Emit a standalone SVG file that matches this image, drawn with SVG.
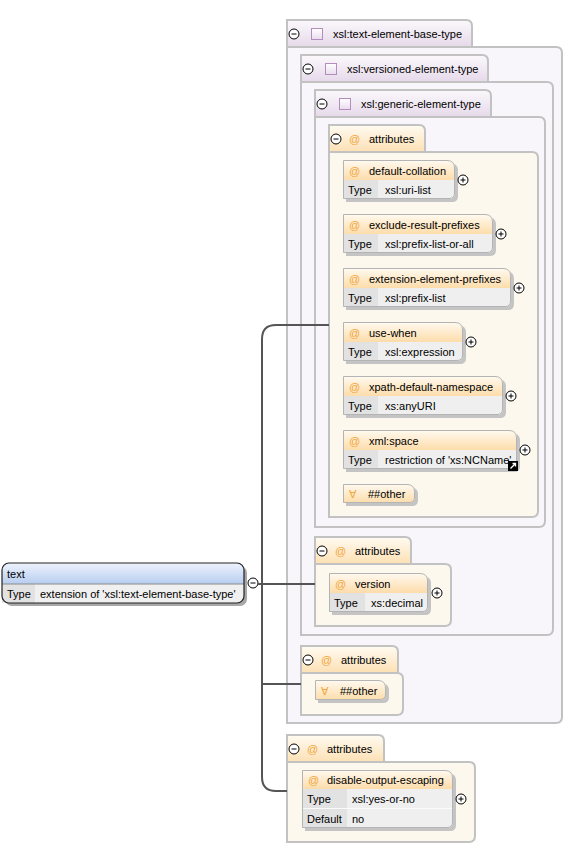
<svg xmlns="http://www.w3.org/2000/svg" width="569" height="844" viewBox="0 0 569 844">
<defs>
<linearGradient id="gTab" x1="0" y1="0" x2="0" y2="1"><stop offset="0" stop-color="#fbf9fc"/><stop offset="1" stop-color="#e6d9ea"/></linearGradient>
<linearGradient id="gAtab" x1="0" y1="0" x2="0" y2="1"><stop offset="0" stop-color="#fffbf2"/><stop offset="1" stop-color="#fde0b4"/></linearGradient>
<linearGradient id="gHead" x1="0" y1="0" x2="0" y2="1"><stop offset="0" stop-color="#fffaf1"/><stop offset="1" stop-color="#fddcaa"/></linearGradient>
<linearGradient id="gBlue" x1="0" y1="0" x2="0" y2="1"><stop offset="0" stop-color="#eef3fc"/><stop offset="1" stop-color="#b7cdf0"/></linearGradient>
<linearGradient id="gSq" x1="0" y1="0" x2="0" y2="1"><stop offset="0" stop-color="#ffffff"/><stop offset="1" stop-color="#eadcee"/></linearGradient>
<g id="minus"><circle r="5" fill="#fff" stroke="#000" stroke-width="1"/><path d="M-2.5 0 H2.5" stroke="#000" stroke-width="1"/></g>
<g id="plus"><circle r="5" fill="#fff" stroke="#000" stroke-width="1"/><path d="M-2.5 0 H2.5 M0 -2.5 V2.5" stroke="#000" stroke-width="1"/></g>
</defs>
<style>
text{font-family:"Liberation Sans",Arial,sans-serif;font-size:11px;fill:#000}
.cbody{fill:#f8f6fa;stroke:#c2c2c2;stroke-width:2}
.ctab{fill:url(#gTab);stroke:#c2c2c2;stroke-width:2}
.abody{fill:#fdf8ee;stroke:#c2c2c2;stroke-width:2}
.atab{fill:url(#gAtab);stroke:#c2c2c2;stroke-width:2}
.sq{fill:url(#gSq);stroke:#b58dbd;stroke-width:1}
.hd{fill:url(#gHead)}
.row{fill:#efefef}
.tc{fill:#e2e2e2}
.out{fill:none;stroke:#b4b4b4;stroke-width:1}
.sh{fill:#c4c4c4}
.sep{stroke:#fafafa;stroke-width:1}
.at{fill:#f2a53a}
.conn{fill:none;stroke:#555;stroke-width:2}
</style>

<g id="text-node">
<rect x="5" y="566" width="242" height="40" rx="7" fill="#a8a8a8"/>
<path d="M2 584 V570 Q2 563 9 563 H237 Q244 563 244 570 V584 Z" fill="url(#gBlue)"/>
<path d="M2 584 H244 V596 Q244 603 237 603 H9 Q2 603 2 596 Z" fill="#f0f0f0"/>
<rect x="2" y="584" width="33" height="19" fill="#e2e2e2"/>
<path d="M2 584 H244" stroke="#8a8a8a" stroke-width="1"/>
<rect x="2" y="563" width="242" height="40" rx="7" fill="none" stroke="#222" stroke-width="1.2"/>
<text x="7" y="578">text</text>
<text x="7" y="598">Type</text>
<text x="40" y="598">extension of 'xsl:text-element-base-type'</text>
<use href="#minus" x="253" y="583"/>
</g>

<g id="text-element-base-type">
<path class="cbody" d="M287 47 H556 Q562 47 562 53 V717 Q562 723 556 723 H287 Z"/>
<path class="ctab" d="M287 47 V20 H466 Q472 20 472 26 V47 Z"/>
<use href="#minus" x="294" y="34"/>
<rect class="sq" x="311.5" y="28.5" width="11" height="11"/>
<text x="333" y="38">xsl:text-element-base-type</text>
</g>

<g id="versioned-element-type">
<path class="cbody" d="M301 82 H547 Q553 82 553 88 V629 Q553 635 547 635 H301 Z"/>
<path class="ctab" d="M301 82 V55 H482 Q488 55 488 61 V82 Z"/>
<use href="#minus" x="308" y="69"/>
<rect class="sq" x="325.5" y="63.5" width="11" height="11"/>
<text x="347" y="73">xsl:versioned-element-type</text>
</g>

<g id="generic-element-type">
<path class="cbody" d="M315 117 H539 Q545 117 545 123 V521 Q545 527 539 527 H315 Z"/>
<path class="ctab" d="M315 117 V90 H485 Q491 90 491 96 V117 Z"/>
<use href="#minus" x="322" y="104"/>
<rect class="sq" x="339.5" y="98.5" width="11" height="11"/>
<text x="361" y="108">xsl:generic-element-type</text>
</g>

<g id="attributes-generic">
<path class="abody" d="M329 152 H532 Q538 152 538 158 V511 Q538 517 532 517 H329 Z"/>
<path class="atab" d="M329 152 V125 H419 Q425 125 425 131 V152 Z"/>
<use href="#minus" x="336" y="139"/>
<text class="at" x="349" y="143">@</text>
<text x="369" y="143">attributes</text>
</g>

<g id="attr-default-collation">
<path class="sh" transform="translate(3,3)" d="M343 160 H447 Q455 160 455 168 V193 Q455 199 449 199 H343 Z"/>
<path class="hd" d="M343 160 H447 Q455 160 455 168 V180 H343 Z"/>
<path class="row" d="M343 180 H455 V193 Q455 199 449 199 H343 Z"/>
<rect class="tc" x="343" y="180" width="35" height="19"/>
<path class="out" d="M343.5 160.5 H447 Q454.5 160.5 454.5 168 V193 Q454.5 198.5 449 198.5 H343.5 Z"/>
<text class="at" x="349" y="175">@</text><text x="369" y="175">default-collation</text>
<text x="348" y="194">Type</text><text x="385" y="194">xsl:uri-list</text>
<use href="#plus" x="463" y="180"/>
</g>

<g id="attr-exclude-result-prefixes">
<path class="sh" transform="translate(3,3)" d="M343 214 H485 Q493 214 493 222 V247 Q493 253 487 253 H343 Z"/>
<path class="hd" d="M343 214 H485 Q493 214 493 222 V234 H343 Z"/>
<path class="row" d="M343 234 H493 V247 Q493 253 487 253 H343 Z"/>
<rect class="tc" x="343" y="234" width="35" height="19"/>
<path class="out" d="M343.5 214.5 H485 Q492.5 214.5 492.5 222 V247 Q492.5 252.5 487 252.5 H343.5 Z"/>
<text class="at" x="349" y="229">@</text><text x="369" y="229">exclude-result-prefixes</text>
<text x="348" y="248">Type</text><text x="385" y="248">xsl:prefix-list-or-all</text>
<use href="#plus" x="501" y="234"/>
</g>

<g id="attr-extension-element-prefixes">
<path class="sh" transform="translate(3,3)" d="M343 268 H503 Q511 268 511 276 V301 Q511 307 505 307 H343 Z"/>
<path class="hd" d="M343 268 H503 Q511 268 511 276 V288 H343 Z"/>
<path class="row" d="M343 288 H511 V301 Q511 307 505 307 H343 Z"/>
<rect class="tc" x="343" y="288" width="35" height="19"/>
<path class="out" d="M343.5 268.5 H503 Q510.5 268.5 510.5 276 V301 Q510.5 306.5 505 306.5 H343.5 Z"/>
<text class="at" x="349" y="283">@</text><text x="369" y="283">extension-element-prefixes</text>
<text x="348" y="302">Type</text><text x="385" y="302">xsl:prefix-list</text>
<use href="#plus" x="519" y="288"/>
</g>

<g id="attr-use-when">
<path class="sh" transform="translate(3,3)" d="M343 322 H455 Q463 322 463 330 V355 Q463 361 457 361 H343 Z"/>
<path class="hd" d="M343 322 H455 Q463 322 463 330 V342 H343 Z"/>
<path class="row" d="M343 342 H463 V355 Q463 361 457 361 H343 Z"/>
<rect class="tc" x="343" y="342" width="35" height="19"/>
<path class="out" d="M343.5 322.5 H455 Q462.5 322.5 462.5 330 V355 Q462.5 360.5 457 360.5 H343.5 Z"/>
<text class="at" x="349" y="337">@</text><text x="369" y="337">use-when</text>
<text x="348" y="356">Type</text><text x="385" y="356">xsl:expression</text>
<use href="#plus" x="471" y="342"/>
</g>

<g id="attr-xpath-default-namespace">
<path class="sh" transform="translate(3,3)" d="M343 376 H495 Q503 376 503 384 V409 Q503 415 497 415 H343 Z"/>
<path class="hd" d="M343 376 H495 Q503 376 503 384 V396 H343 Z"/>
<path class="row" d="M343 396 H503 V409 Q503 415 497 415 H343 Z"/>
<rect class="tc" x="343" y="396" width="35" height="19"/>
<path class="out" d="M343.5 376.5 H495 Q502.5 376.5 502.5 384 V409 Q502.5 414.5 497 414.5 H343.5 Z"/>
<text class="at" x="349" y="391">@</text><text x="369" y="391">xpath-default-namespace</text>
<text x="348" y="410">Type</text><text x="385" y="410">xs:anyURI</text>
<use href="#plus" x="511" y="396"/>
</g>

<g id="attr-xml-space">
<path class="sh" transform="translate(3,3)" d="M343 430 H509 Q517 430 517 438 V463 Q517 469 511 469 H343 Z"/>
<path class="hd" d="M343 430 H509 Q517 430 517 438 V450 H343 Z"/>
<path class="row" d="M343 450 H517 V463 Q517 469 511 469 H343 Z"/>
<rect class="tc" x="343" y="450" width="35" height="19"/>
<path class="out" d="M343.5 430.5 H509 Q516.5 430.5 516.5 438 V463 Q516.5 468.5 511 468.5 H343.5 Z"/>
<text class="at" x="349" y="445">@</text><text x="369" y="445">xml:space</text>
<text x="348" y="464">Type</text><text x="385" y="464">restriction of 'xs:NCName'</text>
<use href="#plus" x="525" y="450"/>
<rect x="508" y="461" width="10" height="10" fill="#000"/>
<path d="M510.5 468.5 L515.5 463.5 M512.5 463.5 H515.5 V466.5" stroke="#fff" stroke-width="1.3" fill="none"/>
</g>

<g id="any-other-generic">
<path class="sh" transform="translate(3,3)" d="M343 484 H407 Q415 484 415 492 V497 Q415 503 409 503 H343 Z"/>
<path class="hd" d="M343 484 H407 Q415 484 415 492 V497 Q415 503 409 503 H343 Z"/>
<path class="out" d="M343.5 484.5 H407 Q414.5 484.5 414.5 492 V497 Q414.5 502.5 409 502.5 H343.5 Z"/>
<text class="at" x="349" y="498">∀</text><text x="368" y="498">##other</text>
</g>

<g id="attributes-version">
<path class="abody" d="M315 564 H445 Q451 564 451 570 V620 Q451 626 445 626 H315 Z"/>
<path class="atab" d="M315 564 V537 H405 Q411 537 411 543 V564 Z"/>
<use href="#minus" x="322" y="551"/>
<text class="at" x="335" y="555">@</text>
<text x="355" y="555">attributes</text>
</g>

<g id="attr-version">
<path class="sh" transform="translate(3,3)" d="M329 573 H420 Q428 573 428 581 V606 Q428 612 422 612 H329 Z"/>
<path class="hd" d="M329 573 H420 Q428 573 428 581 V593 H329 Z"/>
<path class="row" d="M329 593 H428 V606 Q428 612 422 612 H329 Z"/>
<rect class="tc" x="329" y="593" width="36" height="19"/>
<path class="out" d="M329.5 573.5 H420 Q427.5 573.5 427.5 581 V606 Q427.5 611.5 422 611.5 H329.5 Z"/>
<text class="at" x="335" y="588">@</text><text x="355" y="588">version</text>
<text x="334" y="607">Type</text><text x="371" y="607">xs:decimal</text>
<use href="#plus" x="437" y="593"/>
</g>

<g id="attributes-outer">
<path class="abody" d="M301 673 H397 Q403 673 403 679 V709 Q403 715 397 715 H301 Z"/>
<path class="atab" d="M301 673 V646 H392 Q398 646 398 652 V673 Z"/>
<use href="#minus" x="308" y="660"/>
<text class="at" x="321" y="664">@</text>
<text x="341" y="664">attributes</text>
</g>

<g id="any-other-outer">
<path class="sh" transform="translate(3,3)" d="M315 680 H378 Q386 680 386 688 V694 Q386 700 380 700 H315 Z"/>
<path class="hd" d="M315 680 H378 Q386 680 386 688 V694 Q386 700 380 700 H315 Z"/>
<path class="out" d="M315.5 680.5 H378 Q385.5 680.5 385.5 688 V694 Q385.5 699.5 380 699.5 H315.5 Z"/>
<text class="at" x="321" y="695">∀</text><text x="340" y="695">##other</text>
</g>

<g id="attributes-text">
<path class="abody" d="M287 762 H469 Q475 762 475 768 V836 Q475 842 469 842 H287 Z"/>
<path class="atab" d="M287 762 V735 H378 Q384 735 384 741 V762 Z"/>
<use href="#minus" x="294" y="749"/>
<text class="at" x="307" y="753">@</text>
<text x="327" y="753">attributes</text>
</g>

<g id="attr-disable-output-escaping">
<path class="sh" transform="translate(3,3)" d="M302 770 H445 Q453 770 453 778 V822 Q453 828 447 828 H302 Z"/>
<path class="hd" d="M302 770 H445 Q453 770 453 778 V789 H302 Z"/>
<path class="row" d="M302 789 H453 V822 Q453 828 447 828 H302 Z"/>
<rect class="tc" x="302" y="789" width="45" height="39"/>
<path class="sep" d="M302 808.5 H453"/>
<path class="out" d="M302.5 770.5 H445 Q452.5 770.5 452.5 778 V822 Q452.5 827.5 447 827.5 H302.5 Z"/>
<text class="at" x="308" y="784">@</text><text x="327" y="784">disable-output-escaping</text>
<text x="307" y="803">Type</text><text x="352" y="803">xsl:yes-or-no</text>
<text x="307" y="823">Default</text><text x="352" y="823">no</text>
<use href="#plus" x="461" y="799"/>
</g>

<g id="connectors">
<path class="conn" d="M262 339 Q262 325 276 325 H329"/>
<path class="conn" d="M262 339 V777 Q262 791 276 791 H287"/>
<path class="conn" d="M258 584 H315"/>
<path class="conn" d="M262 684 H301"/>
</g>
</svg>
